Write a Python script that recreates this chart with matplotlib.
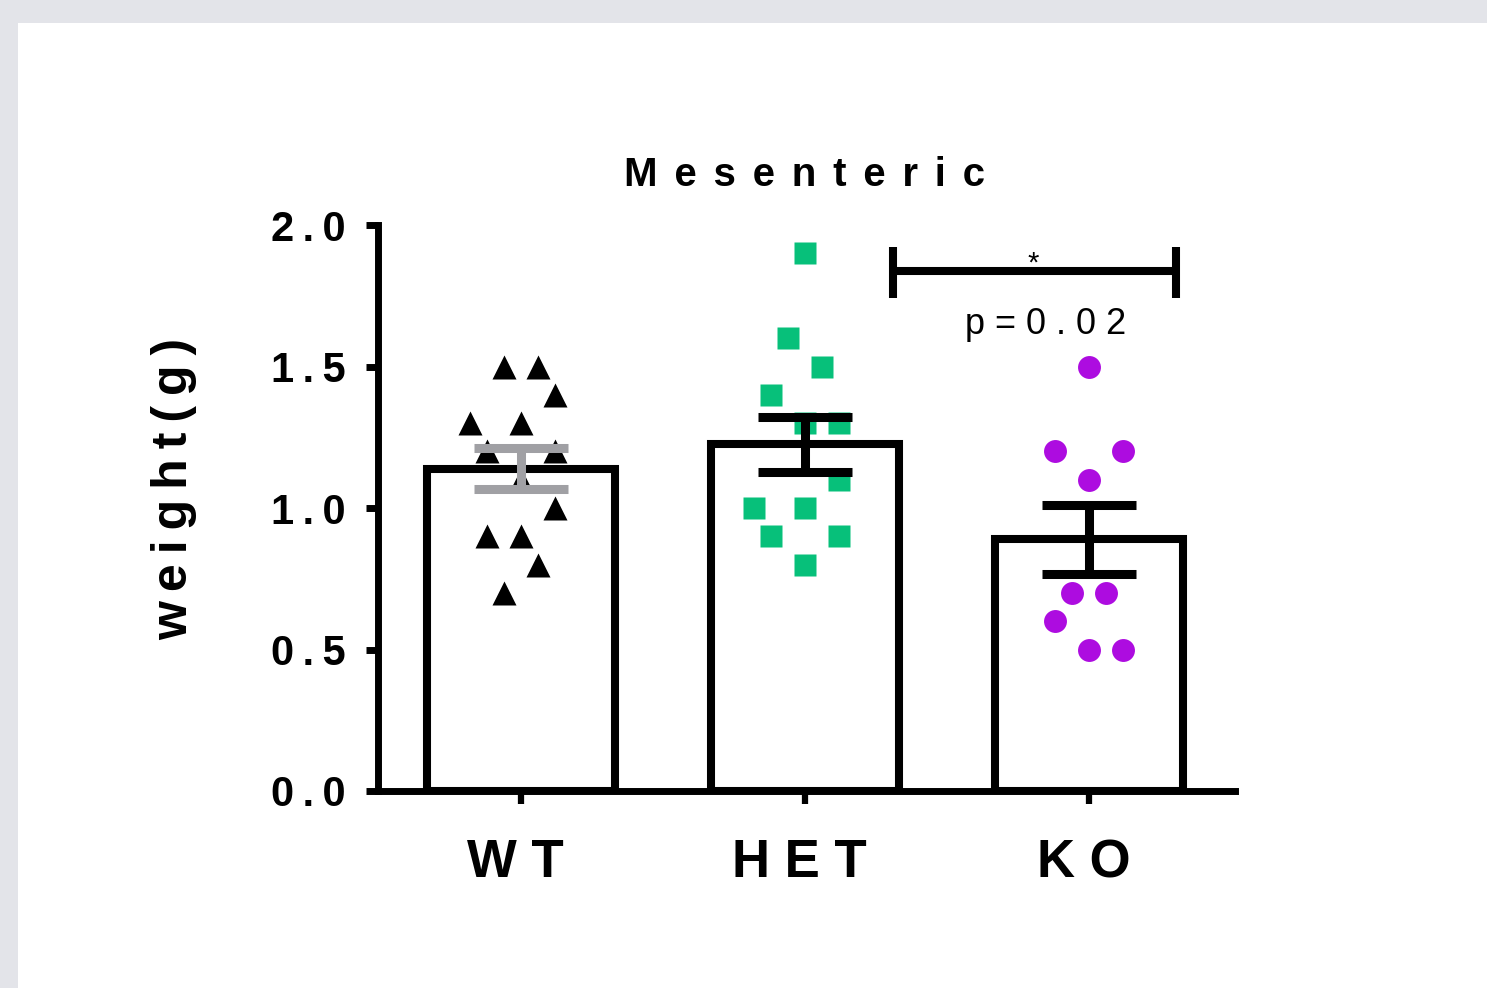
import numpy as np
import matplotlib
matplotlib.use("Agg")
import matplotlib.pyplot as plt
from matplotlib.patches import Rectangle

# ---------------- data ----------------
categories = ["WT", "HET", "KO"]
wt_values = [1.5, 1.5, 1.4, 1.3, 1.3, 1.2, 1.2, 1.1, 1.0, 0.9, 0.9, 0.8, 0.7]
het_values = [1.9, 1.6, 1.5, 1.4, 1.3, 1.3, 1.1, 1.0, 1.0, 0.9, 0.9, 0.8]
ko_values = [1.5, 1.2, 1.2, 1.1, 0.7, 0.7, 0.6, 0.5, 0.5]
y_ticks = [0.0, 0.5, 1.0, 1.5, 2.0]
y_tick_labels = ["0.0", "0.5", "1.0", "1.5", "2.0"]
title_text = "Mesenteric"
y_label_text = "weight(g)"
p_text = "p=0.02"
star_text = "*"

# ---------------- layout / style ----------------
wt_slots = [-1, 1, 2, -3, 0, -2, 2, 0, 2, -2, 0, 1, -1]
het_slots = [0, -1, 1, -2, 0, 2, 2, -3, 0, -2, 2, 0]
ko_slots = [0, -2, 2, 0, -1, 1, -2, 0, 2]
slot_w = 0.06

groups = [wt_values, het_values, ko_values]
slots = [wt_slots, het_slots, ko_slots]
markers = ["^", "s", "o"]
msizes = [17.5, 16.5, 16.5]
pt_colors = ["#000000", "#07C07A", "#AD0CE0"]
err_colors = ["#A0A0A4", "#000000", "#000000"]

plt.rcParams["font.family"] = ["Liberation Sans", "DejaVu Sans"]

THIN = "\u2009"


def spaced(s, sep=" "):
    return sep.join(list(s))


W, H = 1487, 988
fig = plt.figure(figsize=(W / 100, H / 100), dpi=100, facecolor="#E3E4E9")
bg = Rectangle((18 / W, 0), 1, 1 - 23 / H, transform=fig.transFigure,
               facecolor="white", edgecolor="none", zorder=-10)
fig.add_artist(bg)

ax = fig.add_axes([378 / W, 1 - 791 / H, (1235 - 378) / W, (791 - 225) / H])
ax.set_zorder(1)
ax.set_facecolor("white")

x = np.arange(len(categories))
means = np.array([np.mean(g) for g in groups])
sems = np.array([np.std(g, ddof=1) / np.sqrt(len(g)) for g in groups])

ax.bar(x, means, width=0.66, color="white", edgecolor="black", linewidth=5.8, zorder=2)

for i, (vals, sl) in enumerate(zip(groups, slots)):
    xs = x[i] + np.array(sl) * slot_w
    ax.plot(xs, vals, ls="none", marker=markers[i], ms=msizes[i],
            mfc=pt_colors[i], mec="none", zorder=3, clip_on=False)

for i in range(len(categories)):
    ax.errorbar(x[i], means[i], yerr=sems[i], fmt="none", ecolor=err_colors[i],
                elinewidth=6.5, capsize=34, capthick=6.5, zorder=4)

# significance bracket between HET and KO
bx0, bx1, by = 1.31, 2.306, 1.837
ax.plot([bx0, bx1], [by, by], color="black", lw=5.8, solid_capstyle="butt", zorder=5, clip_on=False)
for bx in (bx0, bx1):
    ax.plot([bx, bx], [1.742, 1.922], color="black", lw=5.8, solid_capstyle="butt", zorder=5, clip_on=False)
ax.text(1.803, 1.835, star_text, ha="center", va="baseline", fontsize=21, zorder=6)
ax.text(1.849, 1.614, spaced(p_text), ha="center", va="baseline", fontsize=26, zorder=6)

ax.set_xlim(-0.503, 2.514)
ax.set_ylim(0, 2.0)
ax.set_yticks(y_ticks)
ax.set_yticklabels([spaced(t, THIN) for t in y_tick_labels], fontsize=30, fontweight="bold")
ax.set_xticks(x)
ax.set_xticklabels([spaced(c) + THIN for c in categories], fontsize=38, fontweight="bold")

for s in ("top", "right"):
    ax.spines[s].set_visible(False)
for s in ("left", "bottom"):
    ax.spines[s].set_linewidth(5)
    ax.spines[s].set_color("black")

ax.tick_params(axis="y", length=9, width=5, pad=14, colors="black")
ax.tick_params(axis="x", length=9, width=4.5, pad=25, colors="black")

fig.text(804 / W, 1 - 186 / H, spaced(title_text, "\u2004\u200a"), ha="center", va="baseline",
         fontsize=29, fontweight="bold")
fig.text(174 / W, 1 - 489 / H, spaced(y_label_text, THIN), ha="center", va="center",
         rotation=90, fontsize=36, fontweight="bold")

fig.savefig("out.png", dpi=100, facecolor=fig.get_facecolor())
